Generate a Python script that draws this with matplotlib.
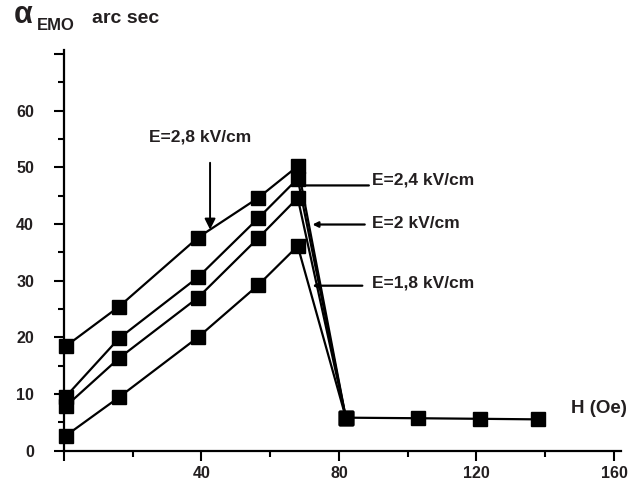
import matplotlib
matplotlib.use("Agg")
import matplotlib.pyplot as plt
from matplotlib.ticker import FixedLocator

plt.rcParams['font.family'] = ['Liberation Sans', 'DejaVu Sans']
plt.rcParams['font.weight'] = 'bold'

# Data (H in Oe, alpha_EMO in arc sec)
h_rise = [0.5, 16, 39, 56.5, 68, 82]
a_e28 = [18.4, 25.4, 37.6, 44.6, 50.2, 5.8]
a_e24 = [9.5, 19.8, 30.6, 41.0, 48.0, 5.8]
a_e20 = [7.8, 16.3, 27.0, 37.5, 44.6, 5.8]
a_e18 = [2.6, 9.4, 20.0, 29.2, 36.1, 5.8]
h_tail = [82, 103, 121, 138]
a_tail = [5.8, 5.7, 5.6, 5.5]

labels = ["E=2,8 kV/cm", "E=2,4 kV/cm", "E=2 kV/cm", "E=1,8 kV/cm"]
x_ticks = [40, 80, 120, 160]
y_ticks = [0, 10, 20, 30, 40, 50, 60]

fig = plt.figure(figsize=(6.43, 4.86), dpi=100)
ax = fig.add_axes([0.0995, 0.073, 0.866, 0.824])

for ys in (a_e28, a_e24, a_e20, a_e18):
    ax.plot(h_rise, ys, color='black', lw=1.6, marker='s', ms=10,
            mfc='black', mec='black', clip_on=False, zorder=3)
ax.plot(h_tail, a_tail, color='black', lw=1.6, marker='s', ms=10,
        mfc='black', mec='black', clip_on=False, zorder=3)

ax.set_xlim(0, 162)
ax.set_ylim(0, 70.7)

for s in ('top', 'right'):
    ax.spines[s].set_visible(False)
for s in ('left', 'bottom'):
    ax.spines[s].set_linewidth(1.6)

ax.xaxis.set_major_locator(FixedLocator([0] + x_ticks))
ax.xaxis.set_minor_locator(FixedLocator([20, 60, 100, 140]))
ax.set_xticklabels([''] + [str(v) for v in x_ticks])
ax.yaxis.set_major_locator(FixedLocator(y_ticks + [70]))
ax.yaxis.set_minor_locator(FixedLocator([5, 15, 25, 35, 45, 55, 65]))
ax.set_yticklabels([str(v) for v in y_ticks] + [''])

ax.tick_params(which='major', direction='out', length=7.5, width=1.5,
               labelsize=11.5, colors='black')
ax.tick_params(which='minor', direction='out', length=4, width=1.5)
ax.tick_params(axis='y', pad=14)
ax.tick_params(axis='x', pad=4)
for lab in ax.get_xticklabels() + ax.get_yticklabels():
    lab.set_fontweight('bold')
    lab.set_color('#231f20')

tc = '#231f20'
fs = 12.5
# E=2,8 label with vertical arrow
ax.text(39.5, 55.4, labels[0], ha='center', va='center', fontsize=fs,
        fontweight='bold', color=tc)
ax.annotate('', xy=(42.5, 39.0), xytext=(42.5, 50.8),
            arrowprops=dict(arrowstyle='-|>', color='black', lw=1.4,
                            mutation_scale=16, shrinkA=0, shrinkB=0))
# E=2,4
ax.text(89.7, 47.7, labels[1], ha='left', va='center', fontsize=fs,
        fontweight='bold', color=tc)
ax.annotate('', xy=(67.6, 46.8), xytext=(88.7, 46.8),
            arrowprops=dict(arrowstyle='-', color='black', lw=1.6,
                            shrinkA=0, shrinkB=0))
# E=2
ax.text(89.7, 40.0, labels[2], ha='left', va='center', fontsize=fs,
        fontweight='bold', color=tc)
ax.annotate('', xy=(72.3, 39.9), xytext=(87.5, 39.9),
            arrowprops=dict(arrowstyle='-|>', color='black', lw=1.6,
                            mutation_scale=8, shrinkA=0, shrinkB=0))
# E=1,8
ax.text(89.7, 29.6, labels[3], ha='left', va='center', fontsize=fs,
        fontweight='bold', color=tc)
ax.annotate('', xy=(72.3, 29.1), xytext=(86.8, 29.1),
            arrowprops=dict(arrowstyle='-|>', color='black', lw=1.6,
                            mutation_scale=8, shrinkA=0, shrinkB=0))

ax.text(147.5, 7.5, "H (Oe)", ha='left', va='center', fontsize=13.5,
        fontweight='bold', color=tc)

fig.text(14 / 643, 1 - 23 / 486, "\u03b1", fontsize=22, color=tc,
         ha='left', va='baseline', fontweight='bold')
fig.text(37 / 643, 1 - 30 / 486, "EMO", fontsize=12, fontweight='bold',
         color=tc, ha='left', va='baseline')
fig.text(92 / 643, 1 - 23 / 486, "arc sec", fontsize=14, fontweight='bold',
         color=tc, ha='left', va='baseline')

fig.savefig("out.png", dpi=100)
